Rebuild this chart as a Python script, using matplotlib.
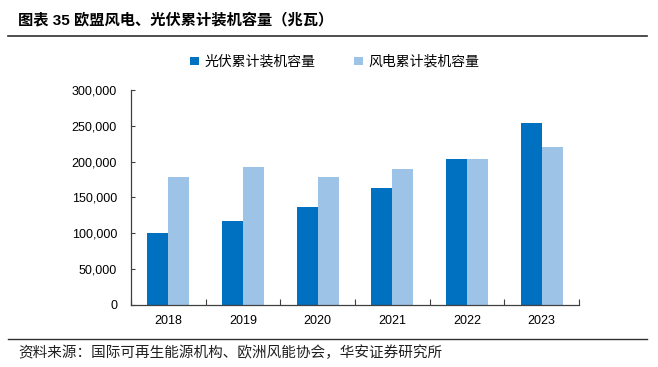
import numpy as np
import matplotlib
matplotlib.use("Agg")
import matplotlib.pyplot as plt
from matplotlib.ticker import FuncFormatter
from matplotlib.lines import Line2D

plt.rcParams['font.family'] = ['Liberation Sans', 'Noto Sans CJK SC', 'DejaVu Sans']

years = ['2018', '2019', '2020', '2021', '2022', '2023']
pv = [101000, 117500, 136000, 162500, 203500, 254500]
wind = [178500, 192000, 179000, 189000, 204000, 220500]

c_pv = '#0070C0'
c_wind = '#9DC3E6'

fig = plt.figure(figsize=(6.58, 3.67), dpi=100)
ax = fig.add_axes([0.199, 0.169, 0.681, 0.586])

x = np.arange(len(years))
w = 0.28
ax.bar(x - w/2, pv, width=w, color=c_pv, label='光伏累计装机容量')
ax.bar(x + w/2, wind, width=w, color=c_wind, label='风电累计装机容量')

ax.set_xlim(-0.5, len(years) - 0.5)
ax.set_ylim(0, 300000)
ax.set_yticks(np.arange(0, 300001, 50000))
ax.yaxis.set_major_formatter(FuncFormatter(lambda v, p: f"{int(v):,}"))

ax.set_xticks(x)
ax.set_xticklabels(years)
ax.set_xticks(np.arange(-0.5, len(years)), minor=True)
ax.tick_params(axis='x', which='major', length=0, pad=7, labelsize=9)
ax.tick_params(axis='x', which='minor', direction='in', length=4,
               width=0.8, color='#404040')
ax.tick_params(axis='y', direction='in', length=3, width=0.8,
               color='#404040', labelsize=9, pad=10)

for s in ['top', 'right']:
    ax.spines[s].set_visible(False)
for s in ['left', 'bottom']:
    ax.spines[s].set_color('#404040')
    ax.spines[s].set_linewidth(0.9)

ax.legend(loc='lower left', bbox_to_anchor=(0.105, 1.04), ncol=2,
          frameon=False, handlelength=0.6, handleheight=0.6,
          handletextpad=0.4, columnspacing=2.8,
          prop={'family': ['Noto Sans CJK SC'], 'size': 10})

# title and source
fig.text(0.027, 0.945, '图表 35 欧盟风电、光伏累计装机容量（兆瓦）',
         fontsize=11, fontweight='bold', va='center', ha='left',
         family=['Liberation Sans', 'Noto Sans CJK SC'])
fig.add_artist(Line2D([0.012, 0.984], [0.902, 0.902], color='#303030',
                      linewidth=1.2, transform=fig.transFigure))
fig.add_artist(Line2D([0.012, 0.984], [0.076, 0.076], color='#303030',
                      linewidth=1.0, transform=fig.transFigure))
fig.text(0.027, 0.040, '资料来源：国际可再生能源机构、欧洲风能协会，华安证券研究所',
         fontsize=10.5, va='center', ha='left', color='#202020',
         family=['Noto Sans CJK SC'])

fig.savefig('out.png', dpi=100)
